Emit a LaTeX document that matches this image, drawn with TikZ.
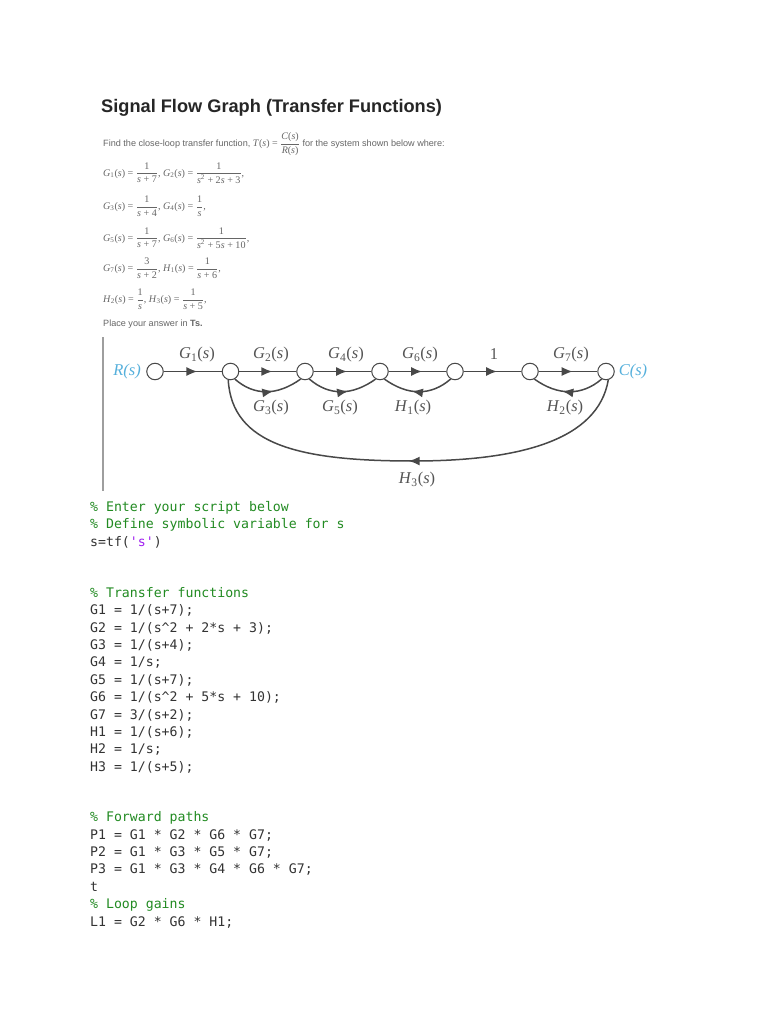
\documentclass[tikz,border=0pt]{standalone}
\usepackage{fontspec}
\setmainfont{Liberation Serif}
\newfontfamily\sansfnt{Liberation Sans}
\newfontfamily\codefnt{DejaVu Sans Mono}
\usetikzlibrary{arrows.meta,decorations.markings}
\definecolor{edgegray}{HTML}{484848}
\definecolor{labelgray}{HTML}{555555}
\definecolor{termblue}{HTML}{55B0DC}
\definecolor{bodygray}{HTML}{666666}
\definecolor{commentgreen}{HTML}{228B22}
\definecolor{strpurple}{HTML}{A020F0}
\definecolor{codeblack}{HTML}{333333}
\newcommand\fr[2]{$\displaystyle\frac{\hbox{#1}}{\hbox{#2}}$}
\newcommand\tf[2]{\textit{#1}\textsubscript{#2}(\textit{s})}
\newcommand\cmt[1]{\textcolor{commentgreen}{\%#1}}
\tikzset{
  sigbox/.style={circle,draw=edgegray,fill=white,line width=1pt,minimum size=16.5pt,inner sep=0pt},
  edgeline/.style={draw=edgegray,line width=1.5pt},
  midarrow/.style={edgeline,postaction={decorate},decoration={markings,mark=at position #1 with {\arrow{Latex[length=11pt,width=9pt]}}}},
  midarrow/.default=0.58,
  gainlabel/.style={text=labelgray,font=\fontsize{16.5}{18}\selectfont,inner sep=0pt},
  termlabel/.style={text=termblue,font=\fontsize{16.5}{18}\selectfont\itshape,inner sep=0pt},
  formula/.style={anchor=west,text=bodygray,font=\fontsize{10.1}{12}\selectfont,inner sep=0pt},
  bodytext/.style={anchor=west,text=bodygray,font=\sansfnt\fontsize{9.1}{11}\selectfont,inner sep=0pt},
  codeline/.style={anchor=base west,text=codeblack,font=\codefnt\fontsize{13.2}{15}\selectfont,inner sep=0pt},
}
\begin{document}
\begin{tikzpicture}[x=1pt,y=-1pt]
\useasboundingbox[fill=white] (0,0) rectangle (768,1024);
\node[anchor=west,text=black!85,font=\sansfnt\bfseries\fontsize{18.2}{20}\selectfont,inner sep=0pt] (title) at (101,108) {Signal Flow Graph (Transfer Functions)};
\node[bodytext] (intro) at (103,144) {Find the close-loop transfer function, {\rmfamily\fontsize{10}{11}\selectfont\textit{T}(\textit{s}) = \fr{\textit{C}(\textit{s})}{\textit{R}(\textit{s})}} for the system shown below where:};
\node[formula] (f1) at (103,173) {\tf{G}{1} = \fr{1}{\textit{s} + 7}, \tf{G}{2} = \fr{1}{\textit{s}\textsuperscript{2} + 2\textit{s} + 3},};
\node[formula] (f2) at (103,206) {\tf{G}{3} = \fr{1}{\textit{s} + 4}, \tf{G}{4} = \fr{1}{\textit{s}},};
\node[formula] (f3) at (103,238) {\tf{G}{5} = \fr{1}{\textit{s} + 7}, \tf{G}{6} = \fr{1}{\textit{s}\textsuperscript{2} + 5\textit{s} + 10},};
\node[formula] (f4) at (103,268) {\tf{G}{7} = \fr{3}{\textit{s} + 2}, \tf{H}{1} = \fr{1}{\textit{s} + 6},};
\node[formula] (f5) at (103,299) {\tf{H}{2} = \fr{1}{\textit{s}}, \tf{H}{3} = \fr{1}{\textit{s} + 5},};
\node[bodytext] (place) at (103,324) {Place your answer in \textbf{Ts.}};
% vertical bar
\coordinate (bartop) at (103,337);
\coordinate (barbot) at (103,491);
\draw[line width=2.2pt,draw=black!38] (bartop) -- (barbot);
% graph nodes
\node[sigbox] (n1) at (155,371.5) {};
\node[sigbox] (n2) at (230.5,371.5) {};
\node[sigbox] (n3) at (305,371.5) {};
\node[sigbox] (n4) at (380,371.5) {};
\node[sigbox] (n5) at (455,371.5) {};
\node[sigbox] (n6) at (530,371.5) {};
\node[sigbox] (n7) at (606,371.5) {};
% forward
\draw[midarrow] (n1) -- (n2);
\draw[midarrow] (n2) -- (n3);
\draw[midarrow] (n3) -- (n4);
\draw[midarrow] (n4) -- (n5);
\draw[midarrow] (n5) -- (n6);
\draw[midarrow] (n6) -- (n7);
% small arcs
\draw[midarrow] (n2.-60) .. controls (254,396) and (277,396) .. (n3.-120);
\draw[midarrow] (n3.-60) .. controls (329,396) and (352,396) .. (n4.-120);
\draw[midarrow] (n5.-120) .. controls (431,396) and (408,396) .. (n4.-60);
\draw[midarrow] (n7.-120) .. controls (582,396) and (558,396) .. (n6.-60);
% H3
\coordinate (h3mid) at (413,461);
\draw[midarrow=0.515] (n7.-75) .. controls (598,440) and (520,461) .. (h3mid) .. controls (300,461) and (232,445) .. (n2.-105);
% labels
\node[termlabel] (Rs) at (127,372) {R(s)};
\node[termlabel] (Cs) at (633,372) {C(s)};
\node[gainlabel] (lG1) at (197,355) {\tf{G}{1}};
\node[gainlabel] (lG2) at (271,355) {\tf{G}{2}};
\node[gainlabel] (lG4) at (346,355) {\tf{G}{4}};
\node[gainlabel] (lG6) at (420,355) {\tf{G}{6}};
\node[gainlabel] (lone) at (494,354) {1};
\node[gainlabel] (lG7) at (571,355) {\tf{G}{7}};
\node[gainlabel] (lG3) at (271,408) {\tf{G}{3}};
\node[gainlabel] (lG5) at (340,408) {\tf{G}{5}};
\node[gainlabel] (lH1) at (413,408) {\tf{H}{1}};
\node[gainlabel] (lH2) at (565,408) {\tf{H}{2}};
\node[gainlabel] (lH3) at (417,480) {\tf{H}{3}};
% code
\node[codeline] (c1) at (90,511) {\cmt{ Enter your script below}};
\node[codeline] (c2) at (90,528.5) {\cmt{ Define symbolic variable for s}};
\node[codeline] (c3) at (90,546) {s=tf(\textcolor{strpurple}{'s'})};
\node[codeline] (c4) at (90,597) {\cmt{ Transfer functions}};
\node[codeline] (c5) at (90,614.5) {G1 = 1/(s+7);};
\node[codeline] (c6) at (90,632) {G2 = 1/(s\string^2 + 2*s + 3);};
\node[codeline] (c7) at (90,649) {G3 = 1/(s+4);};
\node[codeline] (c8) at (90,666.5) {G4 = 1/s;};
\node[codeline] (c9) at (90,684) {G5 = 1/(s+7);};
\node[codeline] (c10) at (90,701.5) {G6 = 1/(s\string^2 + 5*s + 10);};
\node[codeline] (c11) at (90,719) {G7 = 3/(s+2);};
\node[codeline] (c12) at (90,736) {H1 = 1/(s+6);};
\node[codeline] (c13) at (90,753.5) {H2 = 1/s;};
\node[codeline] (c14) at (90,771) {H3 = 1/(s+5);};
\node[codeline] (c15) at (90,821.5) {\cmt{ Forward paths}};
\node[codeline] (c16) at (90,839) {P1 = G1 * G2 * G6 * G7;};
\node[codeline] (c17) at (90,856) {P2 = G1 * G3 * G5 * G7;};
\node[codeline] (c18) at (90,873.5) {P3 = G1 * G3 * G4 * G6 * G7;};
\node[codeline] (c19) at (90,891) {t};
\node[codeline] (c20) at (90,908.5) {\cmt{ Loop gains}};
\node[codeline] (c21) at (90,926) {L1 = G2 * G6 * H1;};
\end{tikzpicture}
\end{document}
